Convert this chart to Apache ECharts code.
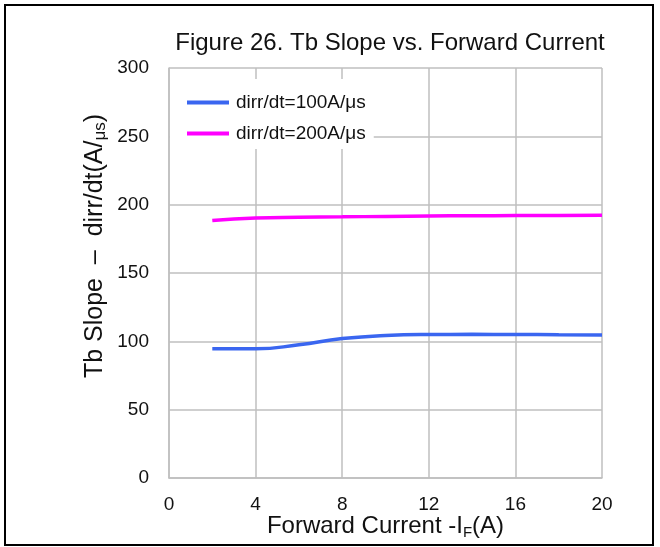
<!DOCTYPE html>
<html>
<head>
<meta charset="utf-8">
<script src="https://cdn.jsdelivr.net/npm/echarts@6/dist/echarts.min.js"></script>
<style>
  html, body { margin: 0; padding: 0; background: #fff; }
  #main { width: 660px; height: 547px; }
</style>
</head>
<body>
<div id="main"></div>
<script>
// 电流点 (A)
var current = [2, 4, 6, 8, 10, 12, 14, 16, 18, 20];
var slope100 = [94.6, 94.5, 97.5, 102, 104.3, 105, 105.1, 105, 104.8, 104.6];
var slope200 = [188.4, 190.3, 190.8, 191.1, 191.4, 191.7, 191.9, 192, 192.1, 192.2];
var seriesNames = ['dirr/dt=100A/μs', 'dirr/dt=200A/μs'];

function pairs(xs, ys) {
    return xs.map(function (x, i) { return [x, ys[i]]; });
}

var myChart = echarts.init(document.getElementById('main'));
var font = 'Liberation Sans, Arial, sans-serif';

var option = {
    animation: false,
    textStyle: { fontFamily: font },
    graphic: [{
        type: 'rect',
        shape: { x: 5, y: 5, width: 648, height: 540 },
        style: { fill: 'none', stroke: '#000', lineWidth: 2 },
        z: 100
    }],
    title: {
        text: 'Figure 26. Tb Slope vs. Forward Current',
        left: 385,
        textAlign: 'center',
        top: 26,
        textStyle: { fontSize: 24, fontWeight: 'normal', color: '#111', fontFamily: font }
    },
    grid: { left: 169, right: 58, top: 68, bottom: 69, outerBoundsMode: 'none' },
    legend: {
        orient: 'vertical',
        left: 170,
        top: 79,
        itemGap: 12,
        itemWidth: 42,
        itemHeight: 4,
        padding: [14, 8, 6, 17],
        backgroundColor: '#fff',
        icon: 'rect',
        textStyle: { fontSize: 19, color: '#111', fontFamily: font, padding: [0, 0, 0, 2] },
        data: seriesNames,
        z: 10
    },
    xAxis: {
        type: 'value',
        min: 0, max: 20, interval: 4,
        name: 'Forward Current -I{s|F}(A)',
        nameLocation: 'middle',
        nameGap: 35,
        nameMoveOverlap: false,
        nameTextStyle: {
            fontSize: 24, color: '#111', fontFamily: font,
            rich: { s: { fontSize: 15, verticalAlign: 'bottom', padding: [12, 0, 0, 0], color: '#111' } }
        },
        axisLine: { lineStyle: { color: '#bfbfbf', width: 1.5 } },
        axisTick: { show: false },
        axisLabel: { fontSize: 19, color: '#111', margin: 17 },
        splitLine: { show: true, lineStyle: { color: '#bfbfbf', width: 1.5 } }
    },
    yAxis: {
        type: 'value',
        min: 0, max: 300, interval: 50,
        name: 'Tb Slope  –  dirr/dt(A/{s|μs})',
        nameLocation: 'middle',
        nameGap: 60,
        nameMoveOverlap: false,
        nameTextStyle: {
            fontSize: 25, color: '#111', fontFamily: font,
            padding: [0, 0, 0, 54],
            rich: { s: { fontSize: 17, verticalAlign: 'bottom', color: '#111', padding: [10, 0, 0, 0] } }
        },
        axisLine: { show: true, lineStyle: { color: '#bfbfbf', width: 1.5 } },
        axisTick: { show: false },
        axisLabel: { fontSize: 19, color: '#111', margin: 20 },
        splitLine: { show: true, lineStyle: { color: '#bfbfbf', width: 1.5 } }
    },
    series: [
        {
            name: seriesNames[0],
            type: 'line',
            smooth: true,
            symbol: 'none',
            data: pairs(current, slope100),
            lineStyle: { color: '#3a66f0', width: 3.5 },
            itemStyle: { color: '#3a66f0' }
        },
        {
            name: seriesNames[1],
            type: 'line',
            smooth: true,
            symbol: 'none',
            data: pairs(current, slope200),
            lineStyle: { color: '#ff00ff', width: 3.5 },
            itemStyle: { color: '#ff00ff' }
        }
    ]
};

myChart.setOption(option);
</script>
</body>
</html>
